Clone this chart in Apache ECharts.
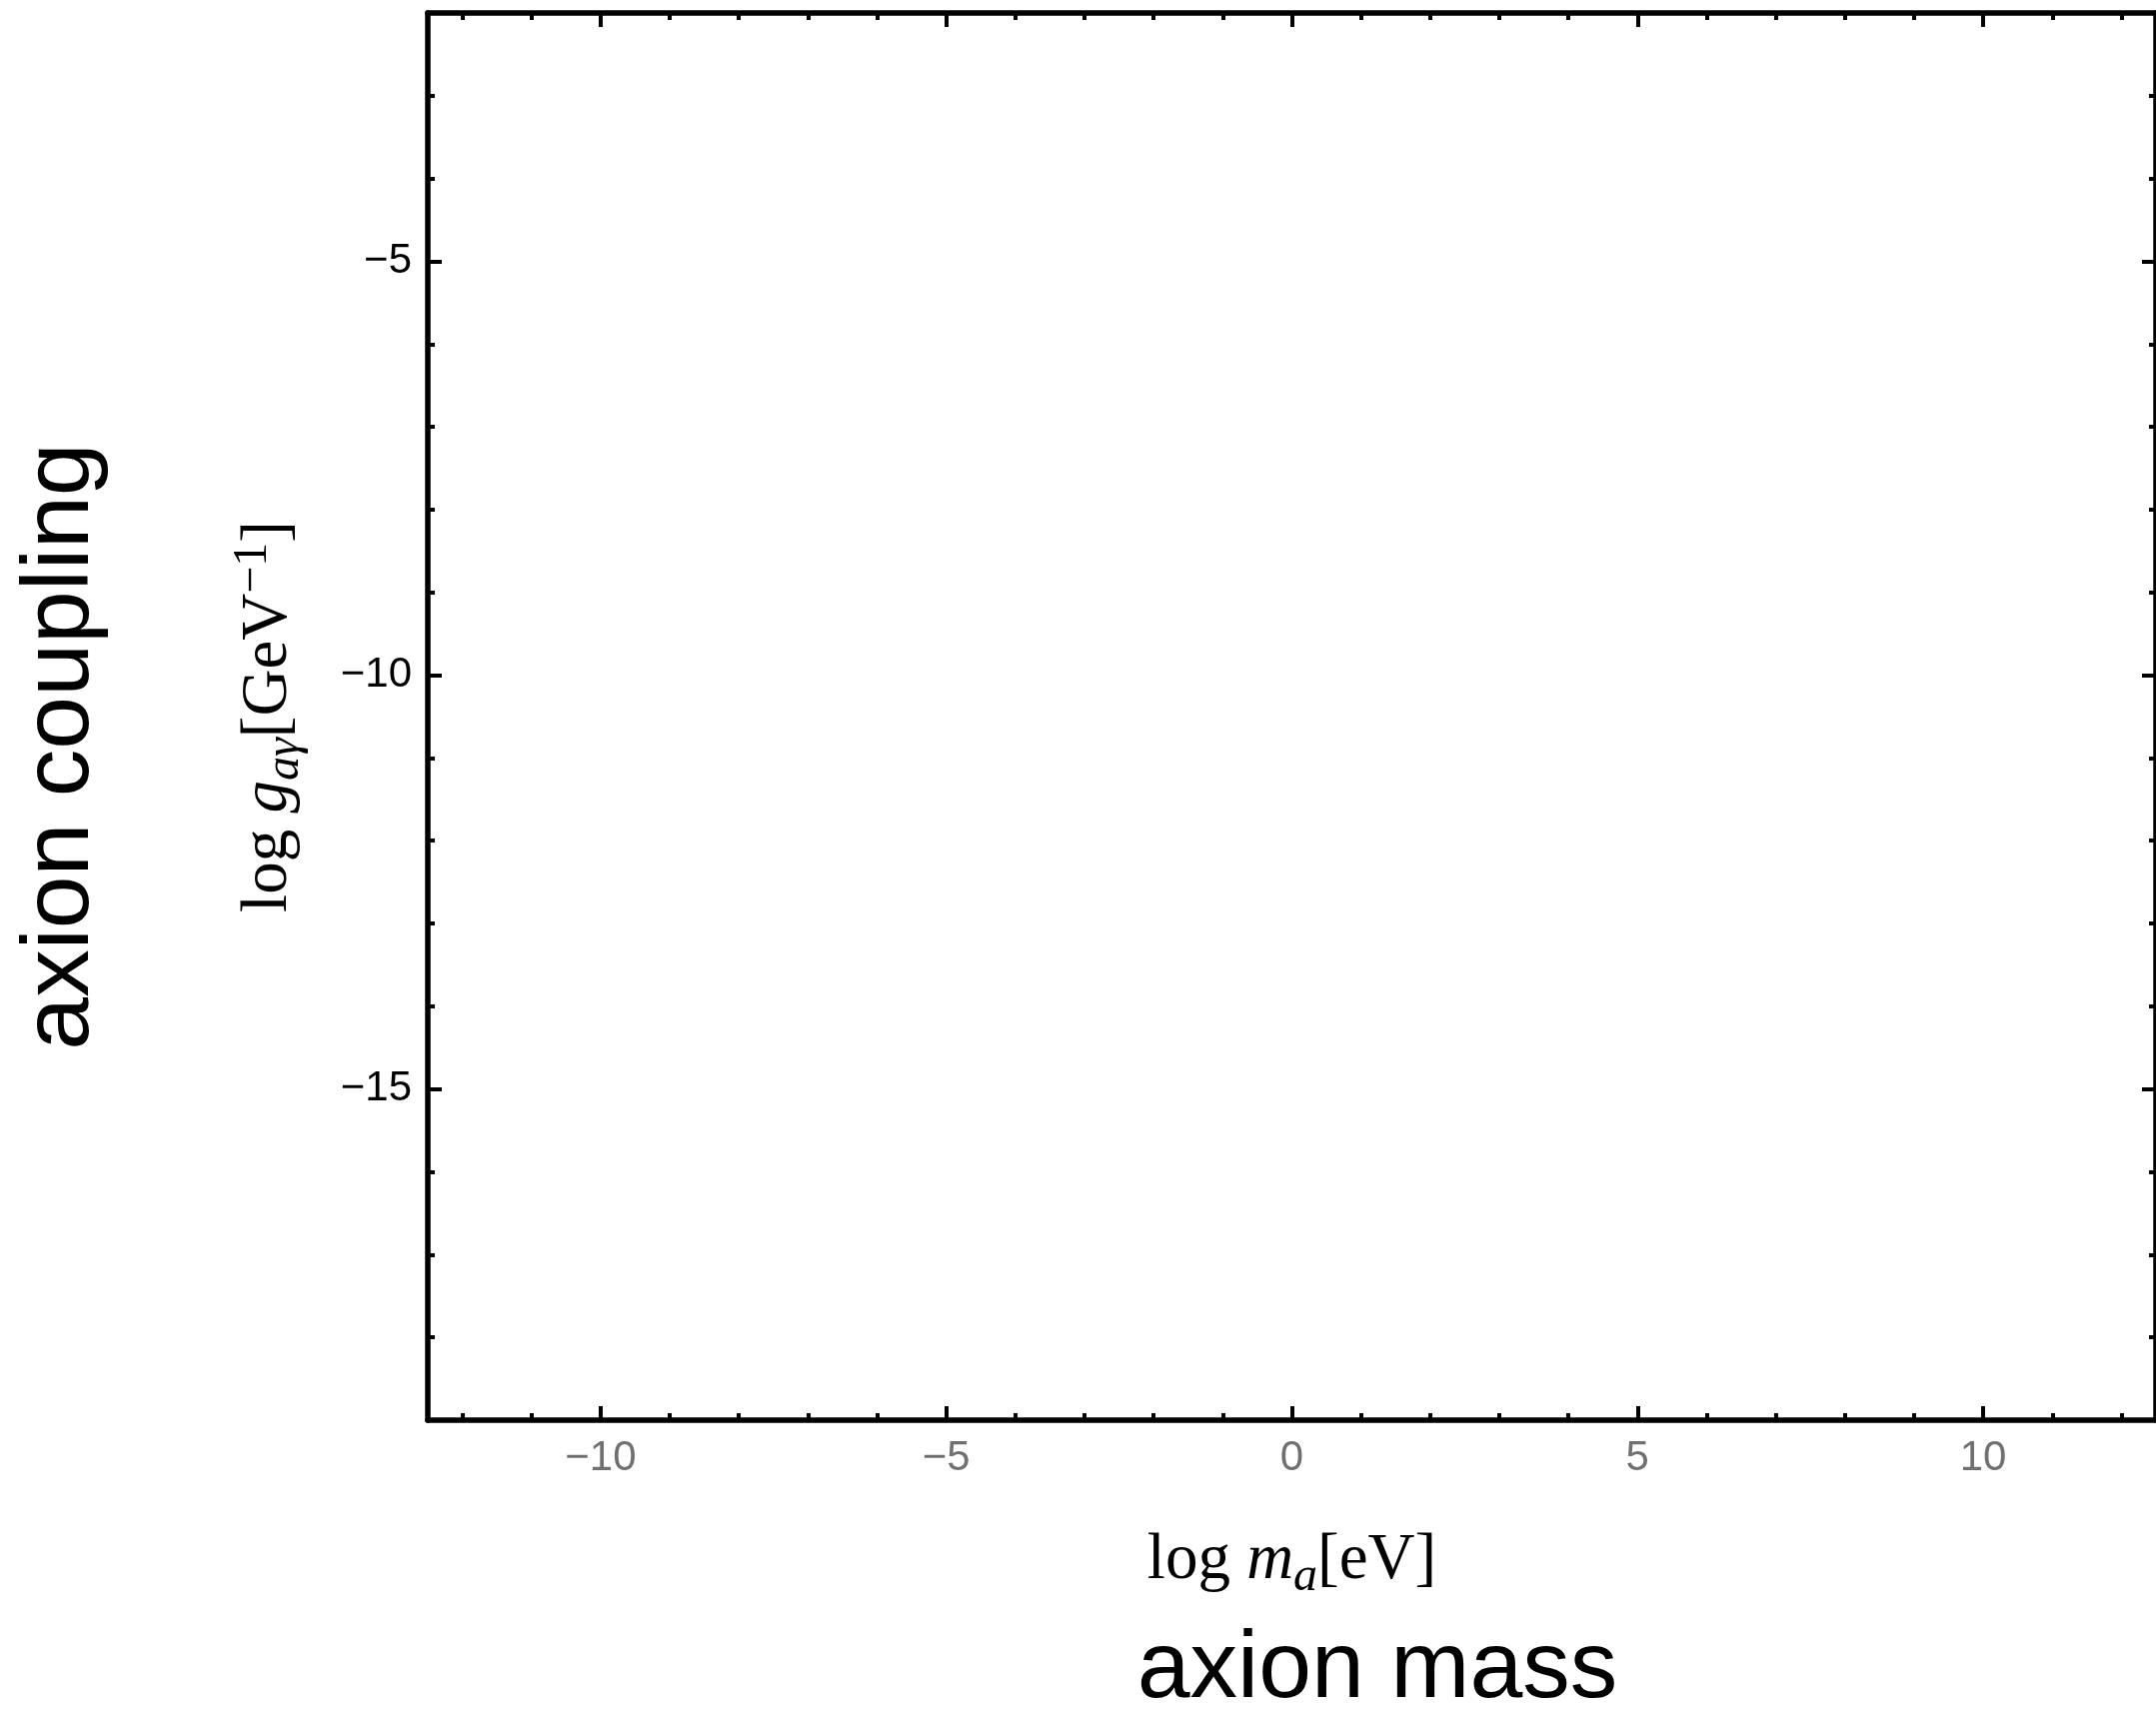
<!DOCTYPE html>
<html>
<head>
<meta charset="utf-8">
<script src="https://cdn.jsdelivr.net/npm/echarts@6/dist/echarts.min.js"></script>
<style>
  html, body { margin: 0; padding: 0; background: #fff; }
  #chart { width: 2157px; height: 1715px; }
</style>
</head>
<body>
<div id="chart"></div>
<script>
// ---- data (axis ranges and tick positions) ----
const xRange = [-12.5, 12.5];
const yRange = [-19, -2];
const xMajorTicks = [-10, -5, 0, 5, 10];
const xMinorTicks = [-12, -11, -9, -8, -7, -6, -4, -3, -2, -1, 1, 2, 3, 4, 6, 7, 8, 9, 11, 12];
const yMajorTicks = [-15, -10, -5];
const yMinorTicks = [-18, -17, -16, -14, -13, -12, -11, -9, -8, -7, -6, -4, -3];
const seriesPoints = []; // the reference plot is empty

const xAxisTitle = 'axion mass';
const yAxisTitle = 'axion coupling';

const fmt = v => String(v).replace('-', '\u2212');
const SANS = '"Liberation Sans", Arial, Helvetica, sans-serif';
const SERIF = '"Liberation Serif", "Times New Roman", serif';

const richMath = {
  n:   { fontFamily: SERIF, fontSize: 65, color: '#000', lineHeight: 80 },
  i:   { fontFamily: SERIF, fontSize: 65, fontStyle: 'italic', color: '#000', lineHeight: 80 },
  s:   { fontFamily: SERIF, fontSize: 48, fontStyle: 'italic', color: '#000', verticalAlign: 'bottom' },
  sup: { fontFamily: SERIF, fontSize: 48, color: '#000', verticalAlign: 'top' }
};

const lineStyle = { color: '#000', width: 5.5 };
const majorTick = { show: true, inside: true, length: 14, lineStyle: { color: '#000', width: 4 } };
const minorTick = { show: true, inside: true, length: 7, lineStyle: { color: '#000', width: 4 } };

function xAx(position, ticks, isMajor, withLine, withLabels) {
  return {
    type: 'value', position: position, min: xRange[0], max: xRange[1],
    splitLine: { show: false },
    axisLine: { show: withLine, onZero: false, lineStyle: lineStyle },
    axisTick: Object.assign({}, isMajor ? majorTick : minorTick, { customValues: ticks }),
    axisLabel: withLabels ? {
      show: true, customValues: xMajorTicks, formatter: fmt, margin: 17,
      fontFamily: SANS, fontSize: 42, color: '#707070'
    } : { show: false }
  };
}
function yAx(position, ticks, isMajor, withLine, withLabels) {
  return {
    type: 'value', position: position, min: yRange[0], max: yRange[1],
    splitLine: { show: false },
    axisLine: { show: withLine, onZero: false, lineStyle: lineStyle },
    axisTick: Object.assign({}, isMajor ? majorTick : minorTick, { customValues: ticks }),
    axisLabel: withLabels ? {
      show: true, customValues: yMajorTicks, formatter: fmt, margin: 16,
      fontFamily: SANS, fontSize: 42, color: '#000'
    } : { show: false }
  };
}

const xMain = xAx('bottom', xMajorTicks, true, true, true);
xMain.name = '{n|log }{i|m}{s|a}{n|[eV]}';
xMain.nameLocation = 'middle';
xMain.nameGap = 101;
xMain.nameTextStyle = { rich: richMath };

const yMain = yAx('left', yMajorTicks, true, true, true);
yMain.name = '{n|log }{i|g}{s|a\u03b3}{n|[GeV}{sup|\u22121}{n|]}';
yMain.nameLocation = 'middle';
yMain.nameRotate = 90;
yMain.nameGap = 119;
yMain.nameTextStyle = { rich: richMath };

const option = {
  backgroundColor: '#fff',
  animation: false,
  grid: { left: 428, right: -9, top: 13, bottom: 294, containLabel: false },
  xAxis: [
    xMain,
    xAx('bottom', xMinorTicks, false, false, false),
    xAx('top', xMajorTicks, true, true, false),
    xAx('top', xMinorTicks, false, false, false)
  ],
  yAxis: [
    yMain,
    yAx('left', yMinorTicks, false, false, false),
    yAx('right', yMajorTicks, true, true, false),
    yAx('right', yMinorTicks, false, false, false)
  ],
  series: [{ type: 'scatter', xAxisIndex: 0, yAxisIndex: 0, data: seriesPoints }],
  graphic: [
    {
      type: 'text', x: 1378, y: 1672,
      style: { text: xAxisTitle, font: '95px ' + SANS, fill: '#000', textAlign: 'center', textVerticalAlign: 'middle' }
    },
    {
      type: 'text', x: 62, y: 747, rotation: Math.PI / 2,
      style: { text: yAxisTitle, font: '95px ' + SANS, fill: '#000', textAlign: 'center', textVerticalAlign: 'middle' }
    }
  ]
};

const chart = echarts.init(document.getElementById('chart'), null, { renderer: 'canvas' });
chart.setOption(option);
</script>
</body>
</html>
